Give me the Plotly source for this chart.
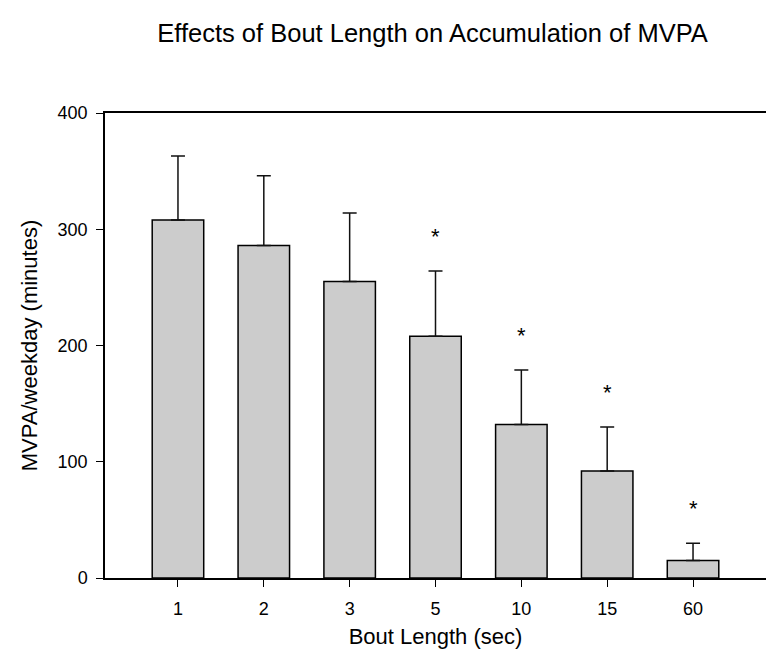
import plotly.graph_objects as go

categories = ["1", "2", "3", "5", "10", "15", "60"]
mvpa_mean = [308, 286, 255, 208, 132, 92, 15]
mvpa_sd = [55, 60, 59, 56, 47, 38, 15]
significant = [False, False, False, True, True, True, True]
y_ticks = [0, 100, 200, 300, 400]

FONT = "Liberation Sans, Arial, sans-serif"
xs = list(range(len(categories)))

fig = go.Figure()
fig.add_trace(go.Bar(
    x=xs, y=mvpa_mean, width=0.6,
    marker=dict(color="#cccccc", line=dict(color="#000000", width=1.5)),
    error_y=dict(type="data", array=mvpa_sd, arrayminus=[0] * len(mvpa_sd),
                 symmetric=False, color="#111111", thickness=1.5, width=7),
    showlegend=False, hoverinfo="skip",
))

for i, (m, s, sig) in enumerate(zip(mvpa_mean, mvpa_sd, significant)):
    if sig:
        fig.add_annotation(x=i, y=m + s + 30, text="*", showarrow=False,
                           font=dict(family=FONT, size=22, color="#000"),
                           yanchor="middle")

fig.update_layout(
    width=774, height=663,
    margin=dict(l=97, r=16, t=105, b=93),
    paper_bgcolor="white", plot_bgcolor="white",
    font=dict(family=FONT, color="#000"),
    title=dict(text="Effects of Bout Length on Accumulation of MVPA",
               x=0.5485, xanchor="center", y=0.962, yanchor="middle",
               font=dict(family=FONT, size=25.5, color="#000")),
    bargap=0.4,
)
fig.update_xaxes(
    range=[-0.85, 6.85], tickmode="array", tickvals=xs, ticktext=categories,
    showline=True, linecolor="#000", linewidth=1.5, mirror=True,
    ticks="outside", ticklen=7, tickwidth=1.2, tickcolor="#000",
    showgrid=False, zeroline=False, ticklabelstandoff=7,
    tickfont=dict(family=FONT, size=18),
    title=dict(text="Bout Length (sec)", font=dict(family=FONT, size=22), standoff=10),
)
fig.update_yaxes(
    range=[0, 400], tickmode="array", tickvals=y_ticks,
    showline=True, linecolor="#000", linewidth=1.5, mirror=True,
    ticks="outside", ticklen=7, tickwidth=1.2, tickcolor="#000",
    showgrid=False, zeroline=False, ticklabelstandoff=5,
    tickfont=dict(family=FONT, size=18),
    title=dict(text="MVPA/weekday (minutes)", font=dict(family=FONT, size=22), standoff=14),
)

fig.write_html("out.html")
